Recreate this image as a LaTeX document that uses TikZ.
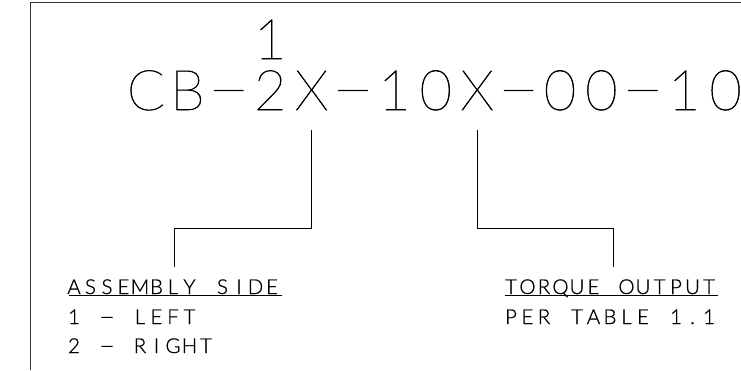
\documentclass[tikz,border=0pt]{standalone}
\usepackage{graphicx}
\usepackage{fontspec}
\IfFontExistsTF{Lato Thin}
  {\newfontfamily\cadbig{Lato Thin}[FakeBold=1]}
  {\IfFontExistsTF{Lato Light}{\newfontfamily\cadbig{Lato Light}}{\newfontfamily\cadbig{Lato}}}
\IfFontExistsTF{Lato Light}
  {\newfontfamily\cadsmall{Lato Light}[FakeBold=0.8]}
  {\newfontfamily\cadsmall{Lato}}
\usetikzlibrary{calc}
% set a text in fixed-pitch cells: #1 pitch, #2 dash stretch, #3 dash raise, #4 text
\ExplSyntaxOn
\NewDocumentCommand\cadline{m m m m}
  {
    \str_map_inline:nn {#4}
      {
        \makebox[#1][c]
          {
            \str_if_eq:nnTF {##1} {-}
              { \raisebox{#3}{\scalebox{#2}[1]{-}} }
              { ##1 }
          }
      }
  }
\ExplSyntaxOff
\tikzset{
  bigtext/.style={font=\cadbig\fontsize{56}{56}\selectfont},
  smalltext/.style={font=\cadsmall\fontsize{20.5}{20.5}\selectfont},
  conn/.style={line width=1pt, black},
  frameline/.style={line width=1pt, black!80},
}
\begin{document}
\begin{tikzpicture}[x=1pt,y=-1pt,every node/.style={inner sep=0pt,outer sep=0pt}]
\useasboundingbox (0,0) rectangle (741,370);
\draw[frameline] (30,370) -- (30,2) -- (741,2);
% part number
\node[bigtext,anchor=base west] (code) at (125.3,110) {\cadline{41.4pt}{2.3}{3pt}{CB-2X-10X-00-10}};
\node[bigtext,anchor=base] (sup) at (270.2,59) {1};
% labels
\node[smalltext,anchor=base west] (asm) at (65.75,294) {\cadline{16.5pt}{2.3}{0.5pt}{ASSEMBLY SIDE}};
\node[smalltext,anchor=base west] (left) at (65.75,324) {\cadline{16.5pt}{2.3}{0.5pt}{1 - LEFT}};
\node[smalltext,anchor=base west] (right) at (65.75,353) {\cadline{16.5pt}{2.3}{0.5pt}{2 - RIGHT}};
\node[smalltext,anchor=base west] (tq) at (502.75,294) {\cadline{16.5pt}{2.3}{0.5pt}{TORQUE OUTPUT}};
\node[smalltext,anchor=base west] (tbl) at (502.75,324) {\cadline{16.5pt}{2.3}{0.5pt}{PER TABLE 1.1}};
\draw[conn] (69,295.5) -- (282,295.5);
\draw[conn] (505,295.5) -- (718,295.5);
% connectors
\coordinate (a0) at (311,130);
\coordinate (a1) at (174.5,267);
\coordinate (b0) at (477,130);
\coordinate (b1) at (613,267);
\coordinate (mid) at (0,228);
\draw[conn] (a0) -- (a0 |- mid) -| (a1);
\draw[conn] (b0) -- (b0 |- mid) -| (b1);
\end{tikzpicture}
\end{document}
